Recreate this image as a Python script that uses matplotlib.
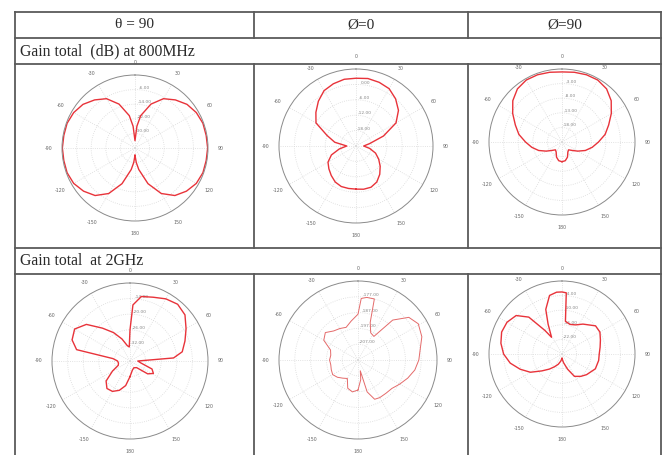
import numpy as np
import matplotlib
matplotlib.use("Agg")
import matplotlib.pyplot as plt
from matplotlib.lines import Line2D

W, H = 667, 455

# table text
col_titles = ["θ = 90", "Ø=0", "Ø=90"]
row_titles = ["Gain total  (dB) at 800MHz", "Gain total  at 2GHz"]

# angle labels of every radiation plot
angle_ticks = [0, 30, 60, 90, 120, 150, 180, 210, 240, 270, 300, 330]
angle_labels = ["0", "30", "60", "90", "120", "150", "180",
                "-150", "-120", "-90", "-60", "-30"]

# 800 MHz, theta = 90
ang_800_t90 = [-180, -175, -170, -160, -150, -140, -130, -120, -110, -100, -90,
               -80, -70, -60, -50, -40, -30, -20, -10, -5, 0, 5, 10, 20, 30, 40,
               50, 60, 70, 80, 90, 100, 110, 120, 130, 140, 150, 160, 170, 175, 180]
gain_800_t90 = [-34, -30, -26, -17.2, -9.2, -4, -1.2, 0.8, 1.6, 1.6, 1.8,
                1.6, 1.6, 0.8, -0.8, -3.6, -6.8, -12.4, -20, -26, -34, -26, -20,
                -12.4, -6.8, -3.6, -0.8, 0.8, 1.6, 1.6, 1.8, 1.6, 1.6, 0.8, -1.2,
                -4, -9.2, -17.2, -26, -30, -34]
rlim_800_t90 = (-38, 2)
rticks_800_t90 = [-30, -22, -14, -6]

# 800 MHz, phi = 0
ang_800_p0 = list(range(-180, 181, 10))
gain_800_p0 = [-7.2, -7.2, -7.2, -7.8, -9.0, -10.2, -11.4, -13.8, -17.4, -20.4,
               -15.6, -12.0, -6.0, -3.6, -1.2, 0.9, 1.8, 2.4, 2.4, 2.7, 2.4, 1.8,
               0.0, -2.4, -6.0, -12.6, -18.6, -21.0, -18.6, -15.9, -13.8, -11.7,
               -9.6, -7.8, -6.9, -6.9, -7.2]
rlim_800_p0 = (-24, 6)
rticks_800_p0 = [-18, -12, -6, 0]

# 800 MHz, phi = 90
ang_800_p90 = list(range(-180, 181, 10))
gain_800_p90 = [-16.25, -16.5, -17.5, -19, -19.5, -18.5, -16.75, -14.5, -12.5,
                -10.5, -8, -6, -3.5, -1, 0.75, 1.5, 1.5, 1.25, 1.0, 1.25, 1.5,
                1.5, 0.75, -1, -3.5, -6, -8, -10.5, -12.5, -14.5, -16.75, -18.5,
                -19.5, -19, -17.5, -16.5, -16.25]
rlim_800_p90 = (-23, 2)
rticks_800_p90 = [-18, -13, -8, -3]

# 2 GHz, theta = 90
ang_2g_t90 = [-180, -170, -160, -150, -140, -130, -120, -110, -100, -90, -82,
              -78, -70, -60, -50, -40, -30, -20, -10, -3, 0, 3, 10, 20, 30, 40,
              50, 60, 70, 80, 86, 90, 100, 110, 118, 126, 135, 150, 165, 180]
gain_2g_t90 = [-32, -28.4, -26, -24.5, -24.2, -26, -30.2, -33.2, -33.5, -33.2,
               -31.4, -17, -14.3, -13.4, -16.1, -21.5, -25.4, -29, -32, -32.6,
               -26, -16.4, -12.8, -11.9, -10.4, -9.5, -10.4, -13.1, -15.5, -17.6,
               -21.2, -35, -33.8, -29, -27.8, -29.6, -34.4, -35, -34.4, -32]
rlim_2g_t90 = (-38, -8)
rticks_2g_t90 = [-32, -26, -20, -14]

# 2 GHz, phi = 0
ang_2g_p0 = [-180, -170, -160, -150, -140, -130, -120, -110, -100, -90, -80,
             -70, -60, -50, -40, -30, -20, -10, 0, 3, 8, 15, 18, 25, 34, 41, 50,
             59, 70, 80, 90, 100, 110, 120, 130, 140, 150, 157, 164, 168, 172, 180]
gain_2g_p0 = [-198, -196.5, -198, -203.5, -202, -200, -198.5, -199, -199.5,
              -199, -199.5, -198.5, -192, -190, -193, -194, -195, -192, -188,
              -178, -177, -177, -192, -198, -199, -183.5, -175, -172.5, -174,
              -177, -178.5, -180.5, -183.5, -186.5, -189, -189.5, -189.5, -190,
              -196, -210, -204.5, -198]
rlim_2g_p0 = (-217, -167)
rticks_2g_p0 = [-207, -197, -187, -177]

# 2 GHz, phi = 90
ang_2g_p90 = [-180, -170, -160, -150, -140, -130, -120, -110, -100, -90, -80,
              -70, -60, -50, -42, -36, -32, -25, -20, -12, -5, 0, 4, 6, 15, 25,
              35, 50, 60, 70, 80, 90, 100, 114, 130, 140, 151, 160, 170, 180]
gain_2g_p90 = [-26.2, -25, -23.5, -22, -19.9, -17.2, -13, -9.7, -6.4, -4, -2.5,
               -1.6, -1.9, -3.4, -7.6, -16, -19.9, -14.5, -8.5, -3.4, -2.5, -2.5,
               -2.8, -14.5, -15.4, -14.8, -13, -10, -10, -11.2, -12.1, -12.7,
               -12.7, -13, -14.8, -16, -17.5, -21.4, -24.4, -26.2]
rlim_2g_p90 = (-28, 2)
rticks_2g_p90 = [-22, -16, -10, -4]

fig = plt.figure(figsize=(W / 100, H / 100), dpi=100)
fig.patch.set_facecolor("white")


def fx(px):
    return px / W


def fy(py):
    return 1 - py / H


def hline(y, x0, x1):
    fig.add_artist(Line2D([fx(x0), fx(x1)], [fy(y), fy(y)], color="#5a5a5a", lw=1.3))


def vline(x, y0, y1):
    fig.add_artist(Line2D([fx(x), fx(x)], [fy(y0), fy(y1)], color="#5a5a5a", lw=1.3))


# table grid
left, right = 14.5, 661
cols = [left, 254, 468, right]
for y in [12, 38, 64, 248, 274]:
    hline(y, left, right)
vline(left, 12, 455)
vline(right, 12, 455)
for x in cols[1:3]:
    vline(x, 12, 38)
    vline(x, 64, 248)
    vline(x, 274, 455)

serif = ["Liberation Serif", "DejaVu Serif"]
for i, t in enumerate(col_titles):
    fig.text(fx((cols[i] + cols[i + 1]) / 2), fy(25), t, ha="center", va="center",
             fontsize=11, family=serif, color="#2a2a2a")
fig.text(fx(20), fy(51), row_titles[0], ha="left", va="center", fontsize=11.3,
         family=serif, color="#2a2a2a")
fig.text(fx(20), fy(261), row_titles[1], ha="left", va="center", fontsize=11.3,
         family=serif, color="#2a2a2a")


def polar_cell(cx, cy, R, ang, gain, rlim, rticks, lw=1.0, color="#e8333a"):
    ax = fig.add_axes([fx(cx - R), (H - cy - R) / H, 2 * R / W, 2 * R / H],
                      projection="polar")
    ax.set_theta_zero_location("N")
    ax.set_theta_direction(-1)
    ax.plot(np.radians(ang), gain, color=color, lw=lw)
    ax.set_ylim(*rlim)
    ax.set_yticks(rticks)
    ax.set_yticklabels(["%.2f" % v for v in rticks])
    ax.set_rlabel_position(4)
    ax.tick_params(axis="y", labelsize=3.2, labelcolor="#888888", pad=0)
    ax.set_thetagrids(angle_ticks, angle_labels)
    ax.set_xticks(np.radians(np.arange(0, 360, 5)), minor=True)
    ax.tick_params(axis="x", which="major", labelsize=3.4, labelcolor="#666666",
                   pad=0.8, length=3, width=0.6, color="#777777", direction="inout")
    ax.tick_params(axis="x", which="minor", length=2, width=0.5, color="#888888",
                   direction="inout")
    ax.grid(color="#d9d9d9", ls=":", lw=0.6)
    ax.spines["polar"].set_color("#8a8a8a")
    ax.spines["polar"].set_linewidth(0.7)
    return ax


polar_cell(135, 148, 73, ang_800_t90, gain_800_t90, rlim_800_t90, rticks_800_t90)
polar_cell(356, 146, 77, ang_800_p0, gain_800_p0, rlim_800_p0, rticks_800_p0)
polar_cell(562, 142, 73, ang_800_p90, gain_800_p90, rlim_800_p90, rticks_800_p90)
polar_cell(130, 361, 78, ang_2g_t90, gain_2g_t90, rlim_2g_t90, rticks_2g_t90)
polar_cell(358, 360, 79, ang_2g_p0, gain_2g_p0, rlim_2g_p0, rticks_2g_p0,
           lw=0.7, color="#e46a6a")
polar_cell(562, 354, 73, ang_2g_p90, gain_2g_p90, rlim_2g_p90, rticks_2g_p90)

fig.savefig("out.png", dpi=100)
